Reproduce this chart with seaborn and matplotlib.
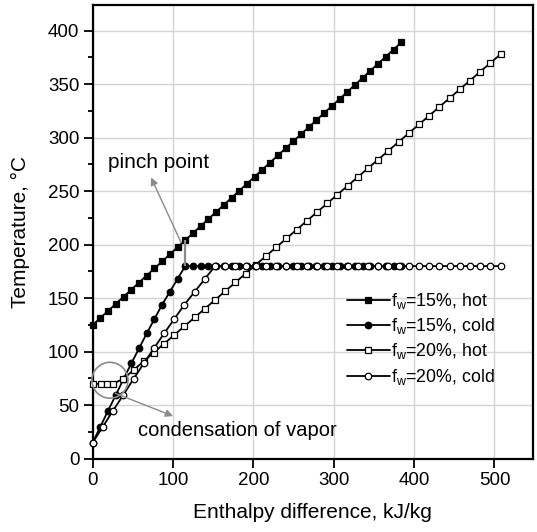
import matplotlib
matplotlib.use('Agg')
import matplotlib.pyplot as plt
import seaborn as sns
import pandas as pd
from matplotlib.patches import Ellipse
from matplotlib.ticker import MultipleLocator

# ---------------- data ----------------
x_15 = [0, 9.6, 19.2, 28.8, 38.4, 48.0, 57.6, 67.2, 76.8, 86.4, 96.0, 105.6,
        115.2, 124.8, 134.4, 144.0, 153.6, 163.2, 172.8, 182.4, 192.0, 201.6,
        211.2, 220.8, 230.4, 240.0, 249.6, 259.2, 268.8, 278.4, 288.0, 297.6,
        307.2, 316.8, 326.4, 336.0, 345.6, 355.2, 364.8, 374.4, 384.0]
hot_15 = [125, 131.6, 138.2, 144.8, 151.4, 158.0, 164.6, 171.2, 177.8, 184.4,
          191.0, 197.6, 204.2, 210.8, 217.4, 224.0, 230.6, 237.2, 243.8, 250.4,
          257.0, 263.6, 270.2, 276.8, 283.4, 290.0, 296.6, 303.2, 309.8, 316.4,
          323.0, 329.6, 336.2, 342.8, 349.4, 356.0, 362.6, 369.2, 375.8, 382.4,
          389.0]
cold_15 = [15, 30, 45, 59.5, 74.5, 89, 103, 117, 130.5, 144, 156, 168, 180,
           180, 180, 180, 180, 180, 180, 180, 180, 180, 180, 180, 180, 180,
           180, 180, 180, 180, 180, 180, 180, 180, 180, 180, 180, 180, 180,
           180, 180]

x_20_hot = [0, 10, 17.5, 25, 38.1, 50.8, 63.5, 76.1, 88.8, 101.5, 114.2, 126.9,
            139.6, 152.3, 165.0, 177.7, 190.4, 203.0, 215.7, 228.4, 241.1,
            253.8, 266.5, 279.2, 291.9, 304.6, 317.3, 329.9, 342.6, 355.3,
            368.0, 380.7, 393.4, 406.1, 418.8, 431.5, 444.2, 456.8, 469.5,
            482.2, 494.9, 507.6]
hot_20 = [70, 70, 70, 70, 74.6, 82.8, 91.0, 99.2, 107.4, 115.6, 123.8, 132.0,
          140.2, 148.4, 156.6, 164.8, 173.0, 181.2, 189.4, 197.6, 205.8, 214.0,
          222.2, 230.4, 238.6, 246.8, 255.0, 263.2, 271.4, 279.6, 287.8, 296.0,
          304.2, 312.4, 320.6, 328.8, 337.0, 345.2, 353.4, 361.6, 369.8, 378.0]

x_20_cold = [0, 12.7, 25.4, 38.1, 50.8, 63.5, 76.1, 88.8, 101.5, 114.2, 126.9,
             139.6, 152.3, 165.0, 177.7, 190.4, 203.0, 215.7, 228.4, 241.1,
             253.8, 266.5, 279.2, 291.9, 304.6, 317.3, 329.9, 342.6, 355.3,
             368.0, 380.7, 393.4, 406.1, 418.8, 431.5, 444.2, 456.8, 469.5,
             482.2, 494.9, 507.6]
cold_20 = [15, 30, 45, 59.5, 74.5, 89, 103, 117, 130.5, 144, 156, 168, 180,
           180, 180, 180, 180, 180, 180, 180, 180, 180, 180, 180, 180, 180,
           180, 180, 180, 180, 180, 180, 180, 180, 180, 180, 180, 180, 180,
           180, 180]

labels = [r'f$_{w}$=15%, hot', r'f$_{w}$=15%, cold',
          r'f$_{w}$=20%, hot', r'f$_{w}$=20%, cold']

# ---------------- style ----------------
sns.set_theme(style='white')
plt.rcParams['font.family'] = ['Liberation Sans', 'DejaVu Sans']
plt.rcParams['mathtext.default'] = 'regular'
plt.rcParams['text.color'] = 'black'
plt.rcParams['axes.labelcolor'] = 'black'
plt.rcParams['xtick.color'] = 'black'
plt.rcParams['ytick.color'] = 'black'

fig = plt.figure(figsize=(5.37, 5.32), dpi=100)
ax = fig.add_axes([0.1726, 0.1378, 0.82, 0.8528])

series = [
    (x_15, hot_15, 's', 'black'),
    (x_15, cold_15, 'o', 'black'),
    (x_20_hot, hot_20, 's', 'white'),
    (x_20_cold, cold_20, 'o', 'white'),
]
for (xs, ys, mk, fc), lab in zip(series, labels):
    df = pd.DataFrame({'x': xs, 'y': ys})
    sns.lineplot(data=df, x='x', y='y', ax=ax, sort=False, estimator=None,
                 color='black', lw=1.3, marker=mk, markersize=4.7,
                 markerfacecolor=fc, markeredgecolor='black',
                 markeredgewidth=0.9, label=lab, clip_on=False, zorder=3)

ax.set_xlim(0, 548)
ax.set_ylim(0, 424)
ax.xaxis.set_major_locator(MultipleLocator(100))
ax.yaxis.set_major_locator(MultipleLocator(50))
ax.yaxis.set_minor_locator(MultipleLocator(25))
ax.grid(True, which='major', color='#d4d4d4', lw=1.0, zorder=0)
ax.set_axisbelow(True)
for sp in ax.spines.values():
    sp.set_color('black')
    sp.set_linewidth(1.6)
ax.tick_params(axis='both', which='major', direction='out', length=6.5,
               width=1.3, labelsize=13.5, color='black', labelcolor='black',
               bottom=True, left=True, top=False, right=False, pad=3)
ax.tick_params(axis='y', which='minor', direction='out', length=3.5,
               width=1.3, left=True, color='black')

ax.set_xlabel('Enthalpy difference, kJ/kg', fontsize=15, color='black')
ax.set_ylabel('Temperature, °C', fontsize=15, color='black')
ax.xaxis.set_label_coords(0.5, -0.098)
ax.yaxis.set_label_coords(-0.142, 0.5)

# annotations
gray = '#8a8a8a'
ax.vlines(115.2, 180, 204.2, color=gray, lw=1.6, zorder=4)
ax.annotate('', xy=(72.6, 262.8), xytext=(110, 202),
            arrowprops=dict(arrowstyle='-|>', color=gray, lw=1.0,
                            mutation_scale=11, shrinkA=0, shrinkB=0))
ax.text(19, 276.8, 'pinch point', fontsize=15, va='center', ha='left',
        color='black')

ax.add_patch(Ellipse((21.5, 73.3), 44.8, 33.5, fill=False, ec=gray, lw=1.2,
                     zorder=4, clip_on=False))
ax.annotate('', xy=(100, 39.8), xytext=(27.8, 61.2),
            arrowprops=dict(arrowstyle='-|>', color=gray, lw=1.0,
                            mutation_scale=11, shrinkA=0, shrinkB=0))
ax.text(56.4, 26.7, 'condensation of vapor', fontsize=14.5, va='center',
        ha='left', color='black')

leg = ax.legend(loc='upper left', bbox_to_anchor=(0.5776, 0.37),
                frameon=False, fontsize=12.8, handlelength=2.4,
                handletextpad=0.1, borderpad=0, borderaxespad=0,
                labelspacing=0.3)
for t in leg.get_texts():
    t.set_color('black')

fig.savefig('out.png', dpi=100)
